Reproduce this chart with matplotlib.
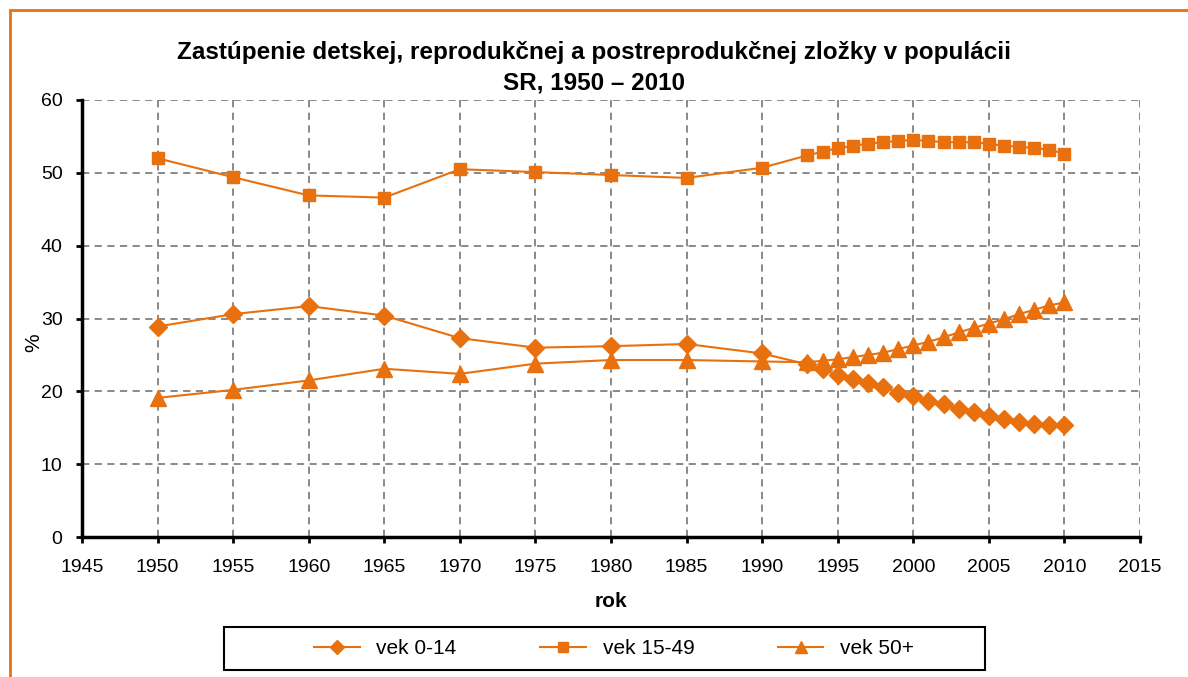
import matplotlib
matplotlib.use('Agg')
import matplotlib.pyplot as plt
from matplotlib.patches import Rectangle

plt.rcParams['font.family'] = ['Liberation Sans', 'DejaVu Sans']

years = [1950, 1955, 1960, 1965, 1970, 1975, 1980, 1985, 1990,
         1993, 1994, 1995, 1996, 1997, 1998, 1999, 2000, 2001,
         2002, 2003, 2004, 2005, 2006, 2007, 2008, 2009, 2010]
vek_0_14 = [28.9, 30.6, 31.7, 30.4, 27.3, 26.0, 26.2, 26.5, 25.2,
            23.7, 23.1, 22.2, 21.7, 21.1, 20.6, 19.8, 19.3, 18.7,
            18.2, 17.6, 17.1, 16.6, 16.2, 15.8, 15.5, 15.4, 15.4]
vek_15_49 = [52.0, 49.4, 46.9, 46.6, 50.5, 50.1, 49.7, 49.3, 50.7,
             52.4, 52.9, 53.4, 53.7, 54.0, 54.2, 54.4, 54.5, 54.4,
             54.2, 54.2, 54.2, 54.0, 53.7, 53.6, 53.4, 53.2, 52.6]
vek_50 = [19.1, 20.2, 21.5, 23.1, 22.4, 23.8, 24.3, 24.3, 24.1,
          24.0, 24.2, 24.4, 24.7, 25.0, 25.3, 25.8, 26.3, 26.8,
          27.4, 28.1, 28.7, 29.3, 29.9, 30.6, 31.2, 31.8, 32.2]

orange = '#E8700E'
W, H = 1188, 677

fig = plt.figure(figsize=(W / 100, H / 100), dpi=100)
ax = fig.add_axes([82 / W, 1 - 537 / H, (1140 - 82) / W, (537 - 100) / H])

ax.plot(years, vek_0_14, color=orange, lw=1.5, marker='D', ms=9, label='vek 0-14')
ax.plot(years, vek_15_49, color=orange, lw=1.5, marker='s', ms=9, label='vek 15-49')
ax.plot(years, vek_50, color=orange, lw=1.5, marker='^', ms=11, label='vek 50+')

ax.set_xlim(1945, 2015)
ax.set_ylim(0, 60)
ax.set_xticks(range(1945, 2016, 5))
ax.set_yticks(range(0, 61, 10))
ax.grid(True, color='#808080', ls=(0, (4, 3)), lw=1.3)
ax.set_axisbelow(True)
for s in ['top', 'right']:
    ax.spines[s].set_visible(False)
for s in ['left', 'bottom']:
    ax.spines[s].set_linewidth(2.5)
ax.tick_params(labelsize=14, length=4, width=2)
ax.tick_params(axis='x', pad=12)
ax.tick_params(axis='y', pad=10)

ax.set_xlabel('rok', fontsize=15, fontweight='bold')
ax.xaxis.set_label_coords(0.5, -(592 - 537) / 437)
ax.set_ylabel('%', fontsize=15)
ax.yaxis.set_label_coords(-39 / 1058, (537 - 343) / 437)

fig.text(0.5, 1 - 53 / H, 'Zastúpenie detskej, reprodukčnej a postreprodukčnej zložky v populácii',
         ha='center', va='center', fontsize=17.5, fontweight='bold')
fig.text(0.5, 1 - 83 / H, 'SR, 1950 – 2010', ha='center', va='center',
         fontsize=17.5, fontweight='bold')

leg = fig.legend(loc='center', bbox_to_anchor=(614 / W, 1 - 649 / H), ncol=3,
                 fontsize=15, frameon=False, handlelength=2.2,
                 columnspacing=4.0, markerscale=0.8)

fig.patches.append(Rectangle((224 / W, 1 - 670 / H), (985 - 224) / W, 43 / H,
                             transform=fig.transFigure, fill=False,
                             edgecolor='black', lw=1.5))
fig.patches.append(Rectangle((10 / W, -0.01), 1.1, 1 - 10 / H + 0.01,
                             transform=fig.transFigure, fill=False,
                             edgecolor=orange, lw=2))

fig.savefig('out.png', dpi=100)
